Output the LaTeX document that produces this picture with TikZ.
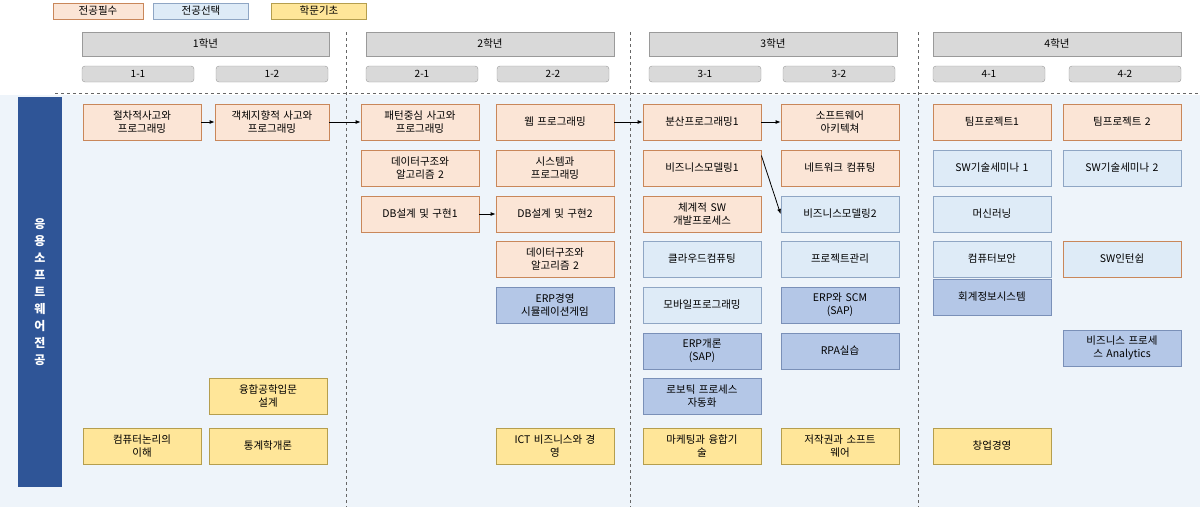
\documentclass[tikz,border=0pt]{standalone}
\usepackage{fontspec}
\setmainfont{Noto Sans CJK KR}
\usetikzlibrary{arrows.meta}
\definecolor{reqF}{HTML}{FBE5D6}\definecolor{reqD}{HTML}{C9875A}
\definecolor{selF}{HTML}{DEEBF7}\definecolor{selD}{HTML}{8FA6C4}
\definecolor{dkF}{HTML}{B4C7E7}\definecolor{dkD}{HTML}{7A90B8}
\definecolor{basF}{HTML}{FFE699}\definecolor{basD}{HTML}{B59E4E}
\definecolor{gryF}{HTML}{D9D9D9}\definecolor{gryD}{HTML}{9A9A9A}
\definecolor{bgF}{HTML}{EEF4FA}\definecolor{barF}{HTML}{2F5597}
\tikzset{
 box/.style={draw,line width=0.8pt,minimum width=118pt,minimum height=36pt,text width=112pt,align=center,inner sep=1pt,font=\fontsize{10.5}{13}\selectfont},
 req/.style={box,fill=reqF,draw=reqD},
 sel/.style={box,fill=selF,draw=selD},
 dk/.style={box,fill=dkF,draw=dkD},
 bas/.style={box,fill=basF,draw=basD},
 year/.style={draw=gryD,fill=gryF,minimum height=24pt,font=\fontsize{10.5}{13}\selectfont},
 sem/.style={draw=gryD,fill=gryF,rounded corners=3pt,minimum width=112pt,minimum height=16pt,inner sep=0pt,font=\fontsize{10}{12}\selectfont},
 leg/.style={draw,line width=0.8pt,minimum width=90pt,minimum height=16pt,inner sep=0pt,font=\fontsize{10.5}{13}\selectfont},
 dsh/.style={draw=black!60,dashed,line width=0.6pt},
 arr/.style={-{Latex[length=5pt,width=4pt]},line width=0.8pt}
}
\begin{document}
\begin{tikzpicture}[x=1pt,y=-1pt]
\useasboundingbox (0,0) rectangle (1200,507);
\fill[bgF] (0,95) rectangle (1200,507);
\node[leg,fill=reqF,draw=reqD] (l1) at (98,11) {전공필수};
\node[leg,fill=selF,draw=selD,minimum width=95pt] (l2) at (201,11) {전공선택};
\node[leg,fill=basF,draw=basD,minimum width=95pt] (l3) at (319,11) {학문기초};
\node[year,minimum width=247pt] (y1) at (205.5,44) {1학년};
\node[year,minimum width=248pt] (y2) at (490,44) {2학년};
\node[year,minimum width=248pt] (y3) at (773,44) {3학년};
\node[year,minimum width=248pt] (y4) at (1057,44) {4학년};
\node[sem] (s11) at (138,74) {1-1};
\node[sem] (s12) at (272,74) {1-2};
\node[sem] (s21) at (422,74) {2-1};
\node[sem] (s22) at (553,74) {2-2};
\node[sem] (s31) at (705,74) {3-1};
\node[sem] (s32) at (839,74) {3-2};
\node[sem] (s41) at (989,74) {4-1};
\node[sem] (s42) at (1125,74) {4-2};
\draw[dsh] (55,93) -- (1200,93);
\foreach \x in {346,630,918} \draw[dsh] (\x,32) -- (\x,507);
\node[fill=barF,minimum width=44pt,minimum height=390pt,inner sep=0pt,text width=14pt,align=center,text=white,font=\fontsize{12}{17}\selectfont\bfseries] (bar) at (40,292) {응\\용\\소\\프\\트\\웨\\어\\전\\공};
% 1-1
\node[req] (a1) at (142,122) {절차적사고와\\프로그래밍};
\node[bas] (a8) at (142,446) {컴퓨터논리의\\이해};
% 1-2
\node[req,minimum width=112pt] (b1) at (272,122) {객체지향적 사고와\\프로그래밍};
\node[bas] (b7) at (268,396) {융합공학입문\\설계};
\node[bas] (b8) at (268,446) {통계학개론};
% 2-1
\node[req] (c1) at (420,122) {패턴중심 사고와\\프로그래밍};
\node[req] (c2) at (420,168) {데이터구조와\\알고리즘 2};
\node[req] (c3) at (420,214) {DB설계 및 구현1};
% 2-2
\node[req] (d1) at (555,122) {웹 프로그래밍};
\node[req] (d2) at (555,168) {시스템과\\프로그래밍};
\node[req] (d3) at (555,214) {DB설계 및 구현2};
\node[req] (d4) at (555,259) {데이터구조와\\알고리즘 2};
\node[dk] (d5) at (555,305) {ERP경영\\시뮬레이션게임};
\node[bas] (d8) at (555,446) {ICT 비즈니스와 경\\영};
% 3-1
\node[req] (e1) at (702,122) {분산프로그래밍1};
\node[req] (e2) at (702,168) {비즈니스모델링1};
\node[req] (e3) at (702,214) {체계적 SW\\개발프로세스};
\node[sel] (e4) at (702,259) {클라우드컴퓨팅};
\node[sel] (e5) at (702,305) {모바일프로그래밍};
\node[dk] (e6) at (702,351) {ERP개론\\(SAP)};
\node[dk] (e7) at (702,396) {로보틱 프로세스\\자동화};
\node[bas] (e8) at (702,446) {마케팅과 융합기\\술};
% 3-2
\node[req] (f1) at (840,122) {소프트웨어\\아키텍쳐};
\node[req] (f2) at (840,168) {네트워크 컴퓨팅};
\node[sel] (f3) at (840,214) {비즈니스모델링2};
\node[sel] (f4) at (840,259) {프로젝트관리};
\node[dk] (f5) at (840,305) {ERP와 SCM\\(SAP)};
\node[dk] (f6) at (840,351) {RPA실습};
\node[bas] (f8) at (840,446) {저작권과 소프트\\웨어};
% 4-1
\node[req] (g1) at (992,122) {팀프로젝트1};
\node[sel] (g2) at (992,168) {SW기술세미나 1};
\node[sel] (g3) at (992,214) {머신러닝};
\node[sel] (g4) at (992,259) {컴퓨터보안};
\node[dk] (g5) at (992,297) {회계정보시스템};
\node[bas] (g8) at (992,446) {창업경영};
% 4-2
\node[req] (h1) at (1122,122) {팀프로젝트 2};
\node[sel] (h2) at (1122,168) {SW기술세미나 2};
\node[sel,draw=reqD] (h4) at (1122,259) {SW인턴쉽};
\node[dk] (h6) at (1122,348) {비즈니스 프로세\\스 Analytics};
% arrows
\draw[arr] (a1) -- (b1);
\draw[arr] (b1) -- (c1);
\draw[arr] (c3) -- (d3);
\draw[arr] (d1) -- (e1);
\draw[arr] (e1) -- (f1);
\draw[arr] (e2.north east) ++(0,6) -- (f3.west);
\end{tikzpicture}
\end{document}
